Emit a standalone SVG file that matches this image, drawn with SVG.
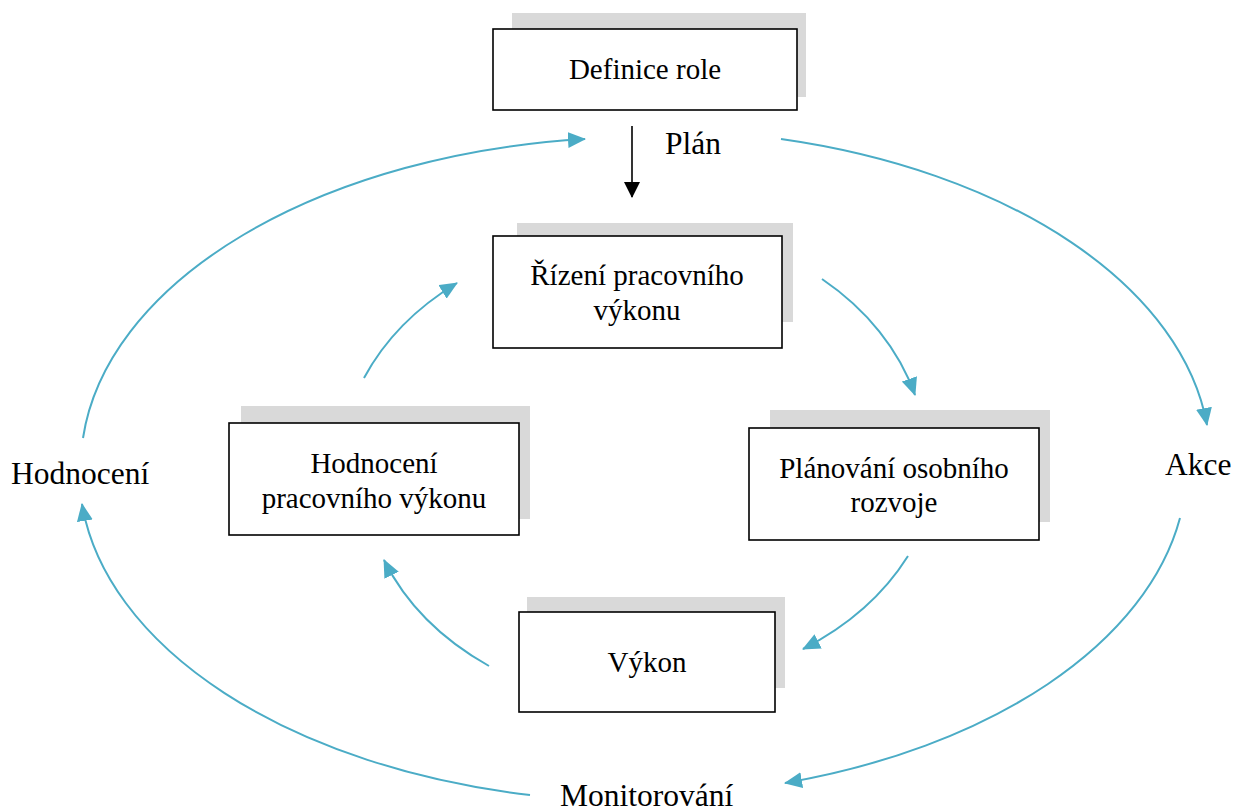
<svg xmlns="http://www.w3.org/2000/svg" width="1234" height="811" viewBox="0 0 1234 811">
  <style>
    .shadow { fill: #d9d9d9; }
    .box { fill: #ffffff; stroke: #000000; stroke-width: 1.6; }
    .txt { font-size: 29px; fill: #000; text-anchor: middle; }
    .lbl { font-size: 31.5px; fill: #000; }
    .flow { fill: none; stroke: #4bacc6; stroke-width: 2; marker-end: url(#blueHead); }
  </style>
  <defs>
    <marker id="blueHead" markerUnits="userSpaceOnUse" markerWidth="18" markerHeight="16" viewBox="0 0 18 16" refX="17" refY="8" orient="auto">
      <path d="M0,0 L18,8 L0,16 Z" fill="#4bacc6"/>
    </marker>
    <marker id="blackHead" markerUnits="userSpaceOnUse" markerWidth="16" markerHeight="16" viewBox="0 0 16 16" refX="15" refY="8" orient="auto">
      <path d="M0,0 L16,8 L0,16 Z" fill="#000"/>
    </marker>
  </defs>

  <g font-family="'Liberation Serif', 'Times New Roman', serif">
  <!-- process boxes -->
  <g id="definice-role">
    <rect class="shadow" x="512" y="13" width="294" height="84"/>
    <rect class="box" x="493" y="29" width="304" height="81"/>
    <text class="txt" x="645" y="79">Definice role</text>
  </g>
  <g id="rizeni">
    <rect class="shadow" x="517" y="223" width="276" height="99"/>
    <rect class="box" x="493" y="236" width="289" height="112"/>
    <text class="txt" x="637" y="285">Řízení pracovního</text>
    <text class="txt" x="637" y="320">výkonu</text>
  </g>
  <g id="hodnoceni-vykonu">
    <rect class="shadow" x="241" y="406" width="289" height="113"/>
    <rect class="box" x="229" y="423" width="290" height="112"/>
    <text class="txt" x="374" y="473">Hodnocení</text>
    <text class="txt" x="374" y="508">pracovního výkonu</text>
  </g>
  <g id="planovani">
    <rect class="shadow" x="770" y="410" width="280" height="112"/>
    <rect class="box" x="749" y="428" width="290" height="112"/>
    <text class="txt" x="894" y="478">Plánování osobního</text>
    <text class="txt" x="894" y="512">rozvoje</text>
  </g>
  <g id="vykon">
    <rect class="shadow" x="527" y="597" width="258" height="91"/>
    <rect class="box" x="519" y="612" width="256" height="100"/>
    <text class="txt" x="647" y="672">Výkon</text>
  </g>

  <!-- outer cycle labels -->
  <g id="plan"><text class="lbl" x="665" y="154">Plán</text></g>
  <g id="akce"><text class="lbl" x="1165" y="475">Akce</text></g>
  <g id="monitorovani"><text class="lbl" x="560" y="806">Monitorování</text></g>
  <g id="hodnoceni"><text class="lbl" x="11" y="484">Hodnocení</text></g>
  </g>

  <!-- connectors -->
  <g id="connectors">
    <line x1="632" y1="126" x2="632" y2="197" stroke="#000" stroke-width="1.6" marker-end="url(#blackHead)"/>
    <!-- outer loop -->
    <path class="flow" d="M 83 438 A 560 330 0 0 1 585 139"/>
    <path class="flow" d="M 781 139 A 560 330 0 0 1 1207 425"/>
    <path class="flow" d="M 1180 518 A 560 330 0 0 1 785 783"/>
    <path class="flow" d="M 530 795 A 560 330 0 0 1 82 504"/>
    <!-- inner loop -->
    <path class="flow" d="M 364 378 A 298 236 0 0 1 457 283"/>
    <path class="flow" d="M 822 279 A 298 236 0 0 1 915 395"/>
    <path class="flow" d="M 908 556 A 298 236 0 0 1 803 649"/>
    <path class="flow" d="M 489 666 A 298 236 0 0 1 384 560"/>
  </g>
</svg>
